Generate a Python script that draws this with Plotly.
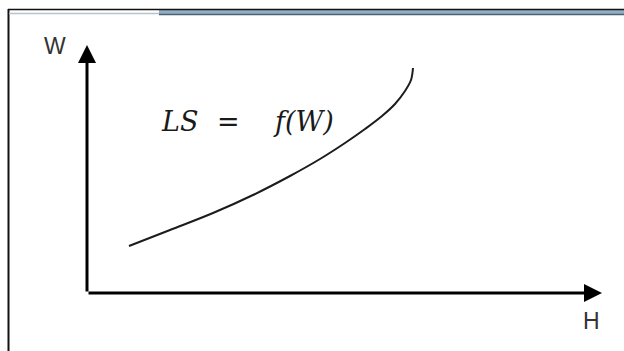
import plotly.graph_objects as go

# Curve LS = f(W): horizontal coordinate H, vertical coordinate W (origin at the axes corner)
H_vals = [42, 83, 126, 166, 203, 233, 258, 278, 295, 308, 318, 324, 326]
W_vals = [47, 63, 80, 98, 117, 134, 150, 164, 177, 189, 202, 213, 225]

# Axis extents and labels
H_axis_end = 515
W_axis_end = 248
axis_labels = ["H", "W"]
formula_parts = ["LS", "=", "f(W)"]

FIG_W, FIG_H = 624, 351
X0, Y0 = 87, 293  # pixel position of the origin


def px(x):
    return x / FIG_W


def py(y):
    return 1 - y / FIG_H


fig = go.Figure()

fig.add_trace(go.Scatter(
    x=H_vals, y=W_vals, mode="lines",
    line=dict(color="#1c1c1c", width=2, shape="spline", smoothing=1.0),
    hoverinfo="skip", showlegend=False,
))

annotations = []
# Axis arrows
annotations.append(dict(
    x=H_axis_end, y=0, ax=0, ay=0, xref="x", yref="y", axref="x", ayref="y",
    text="", showarrow=True, arrowhead=2, arrowwidth=3, arrowsize=1.2,
    arrowcolor="#000000", standoff=0,
))
annotations.append(dict(
    x=0, y=W_axis_end, ax=0, ay=0, xref="x", yref="y", axref="x", ayref="y",
    text="", showarrow=True, arrowhead=2, arrowwidth=3, arrowsize=1.2,
    arrowcolor="#000000", standoff=0,
))
# Axis labels
annotations.append(dict(
    x=591 - X0, y=Y0 - 321, xref="x", yref="y", text=axis_labels[0],
    showarrow=False, font=dict(family="Liberation Sans", size=23, color="#333333"),
))
annotations.append(dict(
    x=55 - X0, y=Y0 - 46, xref="x", yref="y", text=axis_labels[1],
    showarrow=False, font=dict(family="Liberation Sans", size=23, color="#333333"),
))
# Formula
for part, cx in zip(formula_parts, [179, 228, 303]):
    annotations.append(dict(
        x=cx - X0, y=Y0 - 121, xref="x", yref="y",
        text=part if part == "=" else "<i>" + part + "</i>",
        showarrow=False,
        font=dict(family="DejaVu Serif", size=27, color="#1a1a1a"),
    ))

shapes = [
    # left frame edge
    dict(type="line", xref="paper", yref="paper", x0=px(8.5), x1=px(8.5),
         y0=py(9), y1=py(351), line=dict(color="#111111", width=2)),
    # top frame: steel-blue band on the right
    dict(type="rect", xref="paper", yref="paper", x0=px(159), x1=px(624),
         y0=py(10), y1=py(14.5), fillcolor="#93aec2", line=dict(width=0)),
    dict(type="line", xref="paper", yref="paper", x0=px(159), x1=px(624),
         y0=py(14.5), y1=py(14.5), line=dict(color="#4b6072", width=1.5)),
    # thin grey rule on the left part
    dict(type="line", xref="paper", yref="paper", x0=px(9), x1=px(159),
         y0=py(13.5), y1=py(13.5), line=dict(color="#b9c3cc", width=1.5)),
    # top black rule
    dict(type="line", xref="paper", yref="paper", x0=px(8), x1=px(624),
         y0=py(9.5), y1=py(9.5), line=dict(color="#111111", width=1.5)),
]

fig.update_layout(
    width=FIG_W, height=FIG_H,
    margin=dict(l=0, r=0, t=0, b=0),
    paper_bgcolor="white", plot_bgcolor="white",
    xaxis=dict(range=[-X0, FIG_W - X0], visible=False, fixedrange=True),
    yaxis=dict(range=[Y0 - FIG_H, Y0], visible=False, fixedrange=True),
    annotations=annotations,
    shapes=shapes,
    showlegend=False,
)

fig.write_html("out.html", config={"displayModeBar": False})
